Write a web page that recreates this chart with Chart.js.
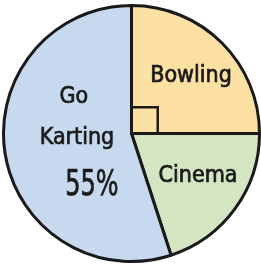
<!DOCTYPE html>
<html>
<head>
<meta charset="utf-8">
<script src="https://cdn.jsdelivr.net/npm/chart.js@4.4.1/dist/chart.umd.min.js"></script>
<style>
  html, body { margin: 0; padding: 0; background: #fff; }
  #wrap { width: 261px; height: 266px; }
</style>
</head>
<body>
<div id="wrap"><canvas id="pie" width="261" height="266"></canvas></div>
<script>
// --- data ---
const categories = ["Bowling", "Cinema", "Go Karting"];
const shares = [25, 20, 55];
const sliceColors = ["#fce1a2", "#d3e5c1", "#c6d9ee"];

// label lines per slice (Go Karting is split on three lines like the worksheet)
const labelLines = [["Bowling"], ["Cinema"], ["Go", "Karting", "55%"]];

// --- text inside the slices + the right-angle mark ---
const FONT = "'DejaVu Sans Condensed', sans-serif";
const sliceLabels = {
    id: 'sliceLabels',
    afterDatasetsDraw(chart) {
        const ctx = chart.ctx;
        const arcs = chart.getDatasetMeta(0).data;
        const cx = arcs[0].x, cy = arcs[0].y, r = arcs[0].outerRadius;

        // little square marking the 90 degree corner of Bowling
        const s = r * 0.205;
        ctx.save();
        ctx.strokeStyle = '#1a1a1a';
        ctx.lineWidth = 2.5;
        ctx.strokeRect(cx, cy - s, s, s);

        // offsets are in units of the radius: dx, dy, font size, x squeeze
        const spots = [
            [[0.465, -0.45, 23, 1]],
            [[0.52, 0.333, 23, 1]],
            [[-0.45, -0.287, 23, 1], [-0.426, 0.039, 23, 1], [-0.31, 0.41, 36, 0.74]]
        ];
        ctx.fillStyle = '#1a1a1a';
        ctx.strokeStyle = '#1a1a1a';
        ctx.lineWidth = 0.7;
        ctx.textAlign = 'center';
        ctx.textBaseline = 'middle';
        labelLines.forEach((lines, i) => {
            lines.forEach((txt, j) => {
                const [dx, dy, size, sq] = spots[i][j];
                ctx.save();
                ctx.translate(cx + dx * r, cy + dy * r);
                ctx.scale(sq, 1);
                ctx.font = size + 'px ' + FONT;
                ctx.fillText(txt, 0, 0);
                ctx.strokeText(txt, 0, 0);
                ctx.restore();
            });
        });
        ctx.restore();
    }
};

new Chart(document.getElementById('pie'), {
    type: 'pie',
    data: {
        labels: categories,
        datasets: [{
            data: shares,
            backgroundColor: sliceColors,
            borderColor: '#1a1a1a',
            borderWidth: 3
        }]
    },
    options: {
        responsive: false,
        animation: false,
        layout: { padding: { left: 2, top: 1 } },
        plugins: {
            legend: { display: false },
            tooltip: { enabled: false }
        }
    },
    plugins: [sliceLabels]
});
</script>
</body>
</html>
